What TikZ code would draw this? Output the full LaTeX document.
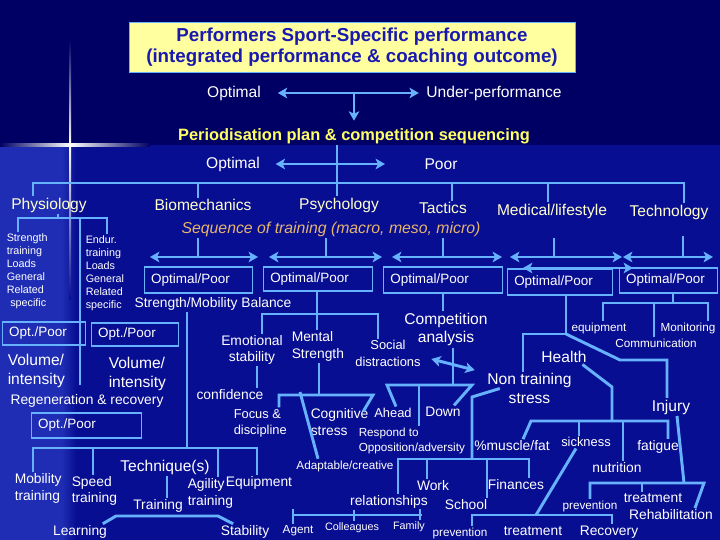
\documentclass[tikz,border=0pt]{standalone}
\usepackage{fontspec}
\setmainfont{Liberation Sans}
\usetikzlibrary{arrows.meta}
\definecolor{bgtop}{RGB}{0,0,100}
\definecolor{bgmain}{RGB}{8,14,145}
\definecolor{bgleft}{RGB}{30,45,180}
\definecolor{wire}{RGB}{102,178,255}
\definecolor{titlefill}{RGB}{255,255,160}
\definecolor{titletext}{RGB}{25,25,175}
\definecolor{headtext}{RGB}{255,255,205}
\definecolor{plantext}{RGB}{255,255,100}
\definecolor{seqtext}{RGB}{230,180,110}
\begin{document}
\begin{tikzpicture}[x=0.03cm,y=-0.03cm,>={Stealth[length=8pt,width=9pt,inset=2pt]},
    every node/.style={text=white,inner sep=0pt,outer sep=1.5pt},
    wire/.style={draw=wire,line width=2.5pt},
    lbl/.style={font=\fontsize{13.3}{16}\selectfont},
    mlbl/.style={font=\fontsize{11.8}{14}\selectfont},
    slbl/.style={font=\fontsize{10}{12.8}\selectfont},
    tlbl/.style={font=\fontsize{9.2}{11}\selectfont},
    head/.style={lbl,text=headtext},
    optbox/.style={draw=wire,line width=1.1pt,font=\fontsize{11.5}{14}\selectfont,align=left,
      inner xsep=6pt,inner ysep=0pt,outer sep=0pt,minimum height=0.78cm}]
  % background
  \useasboundingbox (0,0) rectangle (720,540);
  \fill[bgtop] (0,0) rectangle (720,540);
  \fill[bgmain] (0,145) rectangle (720,540);
  \fill[bgleft] (0,145) rectangle (62,540);
  \shade[left color=bgleft,right color=bgmain] (62,145) rectangle (76,540);
  \shade[left color=bgtop,right color=white] (0,144) rectangle (70,146.5);
  \shade[left color=white,right color=bgtop] (70,144) rectangle (150,146.5);
  \shade[top color=bgtop,bottom color=white] (69,40) rectangle (71.2,145);
  \shade[top color=white,bottom color=bgmain] (69,145) rectangle (71.2,300);

  % outcome and plan
  \node[draw=wire,line width=0.8pt,fill=titlefill,text=titletext,align=center,
    minimum width=13.38cm,minimum height=1.5cm,font=\bfseries\fontsize{16}{18}\selectfont]
    (title) at (352,47) {Performers Sport-Specific performance\\(integrated performance \& coaching outcome)};
  \node[lbl] (opta) at (234,93) {Optimal};
  \node[lbl] (under) at (494,93) {Under-performance};
  \node[text=plantext,font=\bfseries\fontsize{14}{16}\selectfont] (plan) at (354,136) {Periodisation plan \& competition sequencing};
  \node[lbl] (optb) at (233,164) {Optimal};
  \node[lbl] (poor) at (441,164) {Poor};

  % disciplines
  \node[head] (phys) at (49,205) {Physiology};
  \node[head] (bio) at (203,205) {Biomechanics};
  \node[head] (psy) at (339,205) {Psychology};
  \node[head] (tac) at (443,208) {Tactics};
  \node[head] (med) at (552,211) {Medical/lifestyle};
  \node[head] (tech) at (669,212) {Technology};
  \node[text=seqtext,font=\itshape\fontsize{13.5}{16}\selectfont] (seq) at (331,229) {Sequence of training (macro, meso, micro)};

  \node[optbox,text width=80.7pt] (bbio) at (198.5,280) {Optimal/Poor};
  \node[optbox,text width=81.5pt,minimum height=0.72cm] (bpsy) at (318,279) {Optimal/Poor};
  \node[optbox,text width=90pt] (btac) at (443,280) {Optimal/Poor};
  \node[optbox,text width=78.1pt] (bmed) at (560,282) {Optimal/Poor};
  \node[optbox,text width=72.2pt,minimum height=0.75cm] (btech) at (668.5,280.5) {Optimal/Poor};

  % physiology
  \node[tlbl,align=left,anchor=west] (cola) at (5,271) {Strength\\training\\Loads\\General\\Related\\\hspace*{3pt}specific};
  \node[tlbl,align=left,anchor=west] (colb) at (84,273) {Endur.\\training\\Loads\\General\\Related\\specific};
  \node[optbox,text width=59.4pt,minimum height=0.69cm] (pboxa) at (44,333.5) {Opt./Poor};
  \node[optbox,text width=62.8pt,minimum height=0.69cm] (pboxb) at (135,334.5) {Opt./Poor};
  \node[lbl,align=left,anchor=west] (vola) at (6,371) {Volume/\\intensity};
  \node[lbl,align=left,anchor=west] (volb) at (107,374) {Volume/\\intensity};
  \node[mlbl] (regen) at (87,401) {Regeneration \& recovery};
  \node[optbox,text width=82.4pt,minimum height=0.75cm] (pboxc) at (86.5,425.5) {Opt./Poor};

  % biomechanics
  \node[mlbl] (smb) at (213,304) {Strength/Mobility Balance};
  \node[lbl] (techq) at (165,467) {Technique(s)};
  \node[mlbl,align=left,anchor=west] (mob) at (13,488.5) {Mobility\\training};
  \node[mlbl,align=left,anchor=west] (spd) at (70,491) {Speed\\training};
  \node[mlbl,align=left,anchor=west] (agi) at (186,493.5) {Agility\\training};
  \node[mlbl] (equip) at (259,483) {Equipment};
  \node[mlbl] (trn) at (158,506) {Training};
  \node[mlbl] (learn) at (80,532) {Learning};
  \node[mlbl] (stab) at (245,532) {Stability};

  % psychology
  \node[mlbl,align=center] (emo) at (252,350) {Emotional\\stability};
  \node[mlbl,align=left,anchor=west] (ment) at (290,346.5) {Mental\\Strength};
  \node[font=\fontsize{11}{14}\selectfont,align=center] (soc) at (388,353.5) {Social\\distractions};
  \node[mlbl] (conf) at (230,395) {confidence};
  \node[font=\fontsize{11}{13.6}\selectfont,align=left,anchor=west] (focus) at (232,423) {Focus \&\\discipline};
  \node[mlbl,align=left,anchor=west] (cog) at (309,422) {Cognitive\\stress};
  \node[font=\fontsize{11}{13}\selectfont] (ahead) at (393,413) {Ahead};
  \node[mlbl] (down) at (443,412) {Down};
  \node[slbl,align=left,anchor=west] (resp) at (357,440.5) {Respond to\\Opposition/adversity};
  \node[slbl] (adapt) at (345,466) {Adaptable/creative};

  % tactics and medical
  \node[lbl,align=center] (comp) at (446,329.5) {Competition\\analysis};
  \node[lbl] (health) at (564,357) {Health};
  \node[lbl,align=center] (nts) at (529.5,388.5) {Non training\\stress};
  \node[lbl] (injury) at (671,407) {Injury};
  \node[mlbl] (musc) at (512,446) {\%muscle/fat};
  \node[font=\fontsize{11}{13}\selectfont] (sick) at (586,442) {sickness};
  \node[mlbl] (fatig) at (658,447) {fatigue};
  \node[mlbl] (nutr) at (617,468) {nutrition};
  \node[slbl] (preva) at (590,506) {prevention};
  \node[mlbl] (treata) at (653,498) {treatment};
  \node[mlbl] (rehab) at (671,515) {Rehabilitation};
  \node[mlbl] (treatb) at (533,531) {treatment};
  \node[mlbl] (recov) at (609,532) {Recovery};
  \node[slbl] (prevb) at (460,533) {prevention};
  \node[mlbl] (work) at (433,486) {Work};
  \node[mlbl] (rel) at (389,502) {relationships};
  \node[mlbl] (fin) at (516,485) {Finances};
  \node[mlbl] (school) at (466,505) {School};
  \node[slbl] (agent) at (298,531) {Agent};
  \node[tlbl] (coll) at (352,528) {Colleagues};
  \node[tlbl] (fam) at (409,527) {Family};

  % technology
  \node[slbl] (equipb) at (599,328) {equipment};
  \node[slbl] (monit) at (688,328) {Monitoring};
  \node[slbl] (comm) at (656,343) {Communication};

  % connectors: top
  \coordinate (fork) at (354,93);
  \coordinate (poorend) at (385,164);
  \draw[wire,<->] ([xshift=13pt]opta.east) -- ([xshift=-5pt]under.west);
  \draw[wire,->] (fork) -- ([yshift=5pt]fork |- plan.north);
  \draw[wire,<->] ([xshift=12pt]optb.east) -- (poorend);
  \draw[wire] (plan.south -| 337,0) -- (psy.north -| 337,0);
  \coordinate (busl) at (33,183);
  \coordinate (busr) at (684,183);
  \draw[wire] (phys.north -| busl) |- (busr) -- (tech.north -| busr);
  \draw[wire] (198,183) -- (bio.north -| 198,0);
  \draw[wire] (452,183) -- (tac.north -| 452,0);
  \draw[wire] (548,183) -- (med.north -| 548,0);

  % arrows under the sequence
  \foreach \x/\a/\b in {198/150/258,326/269/382,443/392/502,554/510/622}{
    \draw[wire] (seq.south -| \x,0) -- (\x,257);
    \draw[wire,<->] (\a,257) -- (\b,257);
  }
  \draw[wire] (683,236) -- (683,257);
  \draw[wire,<->] (623,257) -- (713,257);
  \draw[wire,<->] (523,268) -- (633,268);

  % physiology branch
  \coordinate (pj) at (58,218);
  \draw[wire] (phys.south -| pj) -- (pj);
  \draw[wire] (cola.north -| 18,0) |- (107,218) -- (colb.north -| 107,0);
  \coordinate (pvend) at (80,385);
  \draw[wire] (80,218) -- (pvend);

  % biomechanics branch
  \coordinate (sv) at (187,448);
  \draw[wire] (smb.south -| sv) -- (sv);
  \draw[wire] (mob.north -| 33,0) |- (257,448) -- (equip.north -| 257,0);
  \draw[wire] (93,448) -- (spd.north -| 93,0);
  \draw[wire] (218,448) -- (agi.north -| 218,0);
  \draw[wire] (techq.south -| 167,0) -- (trn.north -| 167,0);
  \draw[wire] ([xshift=-5pt]learn.north east) -- (116,516) -- (218,516) -- ([xshift=12pt]stab.north west);

  % psychology branch
  \draw[wire] (bpsy.south -| 317,0) -- (ment.north -| 317,0);
  \draw[wire] (emo.north -| 262,0) |- (378,314) -- (soc.north -| 378,0);
  \draw[wire] (emo.south -| 257,0) -- (conf.north -| 257,0);
  \coordinate (cj) at (319,395);
  \draw[wire] (ment.south -| cj) -- (cj);
  \draw[wire] (focus.north -| 279,0) |- (373,395) -- ([shift={(-6pt,-4pt)}]cog.north east);
  \coordinate (cjb) at (300,392);
  \draw[wire] (cjb) -- (adapt.north -| 318,0);

  % tactics branch
  \draw[wire] (btac.south) -- (btac.south |- comp.north);
  \coordinate (tj) at (453,385);
  \draw[wire] (comp.south -| tj) -- (tj);
  \draw[wire] (ahead.north -| 396,0) -- (387,385) -- (472,385) -- (down.north -| 454,0);
  \draw[wire] (419,385) -- (resp.north -| 419,0);
  \draw[wire,<->] ([shift={(7.6pt,-4.7pt)}]soc.east) -- ([shift={(-9.4pt,15.7pt)}]nts.west);

  % medical branch
  \coordinate (mj) at (566,334);
  \draw[wire] (bmed.south -| mj) -- (mj);
  \draw[wire] (mj) -| (nts.north -| 523,0);
  \draw[wire] (mj) -- (620,360) -| (injury.north -| 667,0);
  \coordinate (hj) at (612,421);
  \draw[wire] ([xshift=-5pt]health.south east) -- (612,387) -- (hj);
  \draw[wire] (musc.north -| 523,0) -- (531,421) -- (668,421) -- (fatig.north -| 668,0);
  \draw[wire] (579,421) -- (sick.north -| 579,0);
  \draw[wire] (623,421) -- (nutr.north -| 623,0);
  \coordinate (ij) at (684,483);
  \draw[wire] (injury.south -| 677,0) -- (ij);
  \draw[wire] (preva.north -| 590,0) |- (704,483) -- (rehab.north -| 695,0);
  \draw[wire] (642,483) -- (treata.north -| 642,0);
  \draw[wire] (sick.south -| 576,0) -- (536,515);
  \draw[wire] (prevb.north -| 472,0) |- (612,515) -- (recov.north -| 612,0);
  \coordinate (nj) at (472,459);
  \draw[wire] ([xshift=12pt]nts.west) -- (472,397) -- (nj);
  \draw[wire] (rel.north -| 398,0) |- (529,459) -- (fin.north -| 529,0);
  \draw[wire] (427,459) -- (work.north -| 427,0);
  \draw[wire] (487,459) -- (school.north -| 487,0);
  \draw[wire] (293,515) -- (422,515);
  \draw[wire] (293,509) -- (agent.north -| 293,0);
  \draw[wire] (rel.south -| 354,0) -- (coll.north -| 354,0);
  \draw[wire] (420,509) -- (fam.north -| 420,0);

  % technology branch
  \coordinate (kj) at (673,303);
  \draw[wire] (btech.south -| kj) -- (kj);
  \draw[wire] (equipb.north -| 603,0) |- (708,303) -- (monit.north -| 708,0);
  \draw[wire] (654,303) -- (comm.north -| 654,0);
\end{tikzpicture}
\end{document}
